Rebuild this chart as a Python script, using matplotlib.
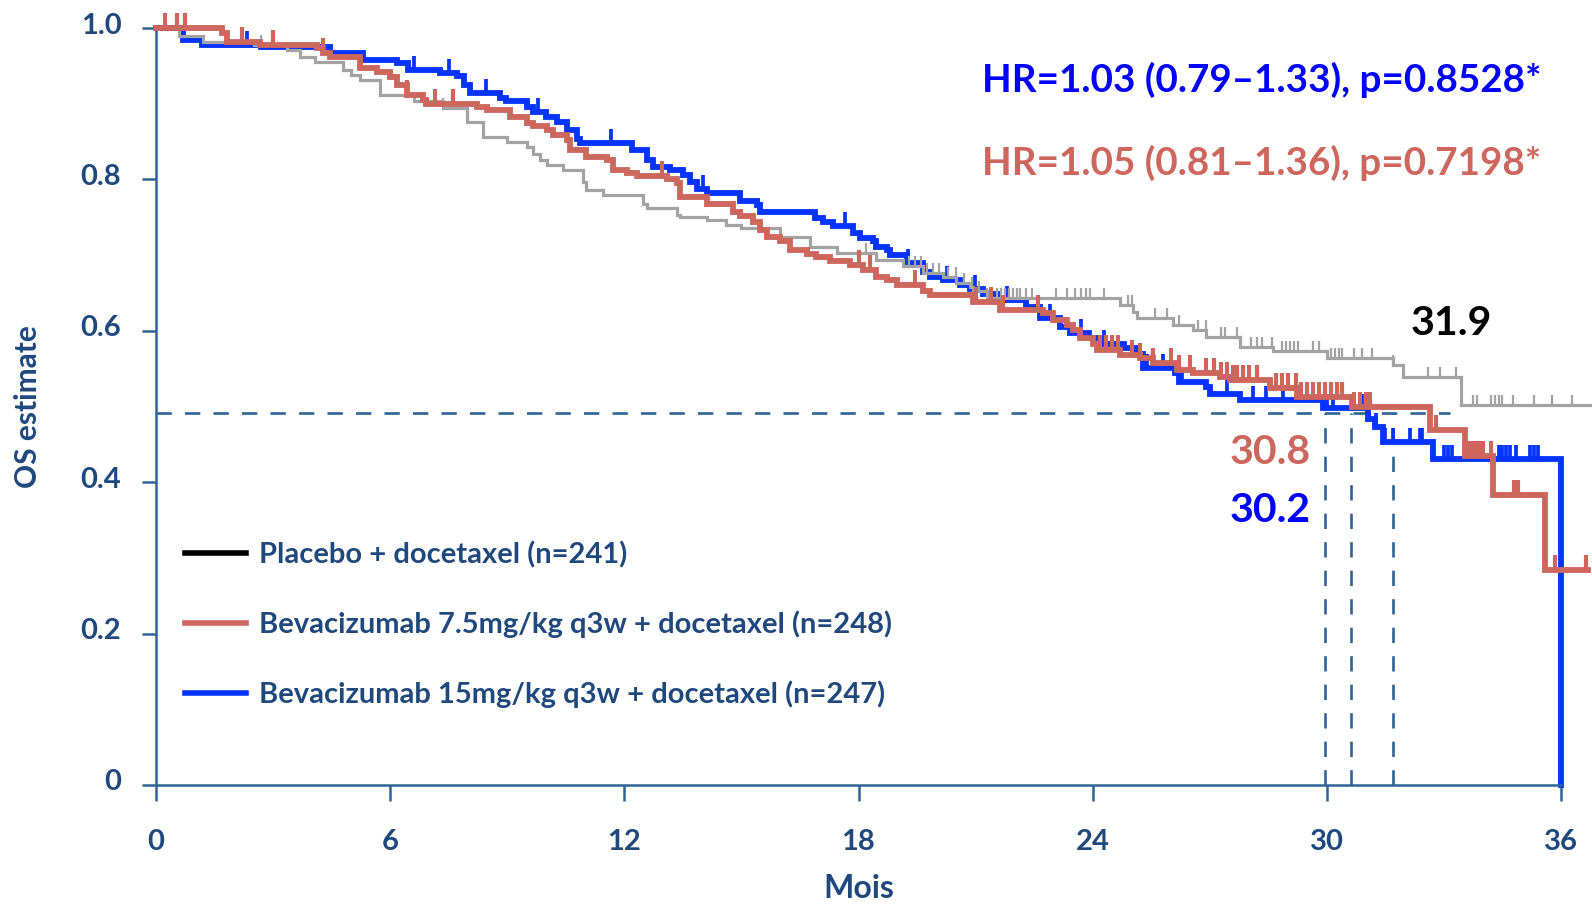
import numpy as np
import matplotlib
matplotlib.use("Agg")
import matplotlib.pyplot as plt
from matplotlib.lines import Line2D
from matplotlib.transforms import ScaledTranslation

plt.rcParams['font.family'] = ['Lato', 'DejaVu Sans']
plt.rcParams['font.weight'] = 'bold'

# ---------------- data ----------------
blue_t = [0, 0.69, 1.17, 2.7, 4.46, 5.3, 6.17, 6.45, 7.28, 7.7, 7.9, 8.05, 8.81, 8.97,
          9.5, 9.67, 10.0, 10.27, 10.52, 10.78, 10.86, 12.2, 12.57, 12.74, 13.17, 13.51,
          13.68, 13.85, 14.11, 14.96, 15.39, 15.47, 16.88, 17.1, 17.35, 17.86, 18.04,
          18.37, 18.46, 18.72, 18.8, 19.23, 19.66, 19.83, 20.17, 20.6, 20.85, 21.2, 21.6,
          22.3, 22.65, 23.16, 23.42, 23.9, 24.3, 24.8, 25.1, 25.3, 26.1, 26.2, 26.9, 27.0,
          27.78, 29.9, 31.06, 31.23, 31.44, 32.73, 36.0]
blue_s = [1.0, 0.984, 0.978, 0.975, 0.967, 0.958, 0.954, 0.945, 0.940, 0.936, 0.925, 0.914,
          0.908, 0.903, 0.896, 0.889, 0.883, 0.876, 0.865, 0.854, 0.848, 0.839, 0.826,
          0.817, 0.812, 0.806, 0.797, 0.787, 0.782, 0.771, 0.766, 0.757, 0.749, 0.744,
          0.738, 0.729, 0.722, 0.718, 0.711, 0.707, 0.700, 0.689, 0.678, 0.671, 0.667,
          0.660, 0.655, 0.648, 0.641, 0.632, 0.617, 0.605, 0.597, 0.590, 0.583, 0.577,
          0.570, 0.551, 0.544, 0.533, 0.526, 0.517, 0.509, 0.498, 0.484, 0.473, 0.453,
          0.431, 0.0]
blue_cens = [0.53, 2.32, 6.6, 7.52, 8.45, 9.8, 11.67, 14.02, 17.65, 19.27, 20.26, 20.98,
             21.8, 22.9, 23.7, 24.3, 25.4, 25.8, 26.3, 27.43, 28.1, 28.45, 28.88, 30.0,
             30.17, 30.9, 31.05, 31.25, 31.5, 31.7, 32.12, 32.38, 32.45, 33.0, 33.1, 33.2,
             34.4, 34.5, 34.6, 34.7, 34.85, 35.2, 35.3, 35.4, 36.0]

red_t = [0, 1.7, 1.81, 2.67, 4.12, 4.29, 4.46, 5.23, 5.65, 6.0, 6.17, 6.42, 6.85, 6.93,
         8.22, 8.47, 9.07, 9.5, 9.67, 10.01, 10.18, 10.52, 10.6, 11.03, 11.55, 11.72,
         12.06, 12.32, 13.09, 13.34, 13.43, 14.11, 14.79, 14.96, 15.3, 15.47, 15.65,
         15.99, 16.24, 16.67, 16.92, 17.27, 17.78, 18.12, 18.46, 18.72, 18.98, 19.66,
         19.83, 20.94, 21.62, 22.73, 22.99, 23.33, 23.5, 23.67, 24.02, 24.1, 24.7, 25.2,
         25.55, 26.15, 26.57, 27.26, 27.52, 28.54, 29.23, 30.64, 32.64, 33.54, 34.26,
         35.58, 36.7]
red_s = [1.0, 0.993, 0.982, 0.977, 0.973, 0.967, 0.962, 0.947, 0.942, 0.935, 0.925, 0.911,
         0.905, 0.900, 0.895, 0.892, 0.883, 0.874, 0.870, 0.865, 0.859, 0.852, 0.839,
         0.830, 0.826, 0.812, 0.808, 0.804, 0.800, 0.795, 0.777, 0.768, 0.757, 0.751,
         0.744, 0.733, 0.724, 0.718, 0.707, 0.702, 0.698, 0.692, 0.687, 0.680, 0.671,
         0.667, 0.660, 0.652, 0.647, 0.638, 0.627, 0.623, 0.614, 0.608, 0.601, 0.590,
         0.583, 0.575, 0.568, 0.564, 0.557, 0.548, 0.544, 0.539, 0.535, 0.524, 0.513,
         0.499, 0.469, 0.434, 0.383, 0.284, 0.284]
red_cens = [0.23, 0.53, 0.74, 2.2, 3.0, 4.29, 6.42, 7.15, 7.62, 12.96, 18.0, 18.3, 19.45,
            21.0, 21.4, 21.7, 22.6, 24.2, 24.35, 24.5, 24.65, 25.0, 25.2, 25.55, 26.0,
            26.2, 26.5, 26.9, 27.1, 27.3, 27.45, 27.6, 27.7, 27.85, 28.0, 28.2, 28.7,
            28.85, 29.0, 29.2, 29.35, 29.5, 29.65, 29.8, 29.95, 30.1, 30.25, 30.4, 30.7,
            30.85, 31.0, 31.1, 32.8, 33.6, 33.7, 33.8, 33.9, 34.0, 34.2, 34.8, 34.9,
            35.6, 35.85, 36.65]

gray_t = [0, 0.6, 1.2, 2.5, 3.35, 3.7, 4.07, 4.8, 5.0, 5.23, 5.74, 6.6, 7.36, 7.96, 8.38,
          9.0, 9.5, 9.67, 9.84, 10.01, 10.44, 10.95, 11.03, 11.46, 12.49, 12.57, 13.34,
          13.43, 14.11, 14.6, 15.0, 15.99, 16.75, 17.44, 18.46, 19.15, 19.66, 20.17,
          20.51, 20.85, 20.94, 21.3, 24.7, 25.04, 25.13, 26.06, 26.57, 26.91, 27.78,
          28.63, 30.0, 31.7, 31.96, 33.45, 36.8]
gray_s = [1.0, 0.990, 0.982, 0.977, 0.971, 0.962, 0.955, 0.945, 0.938, 0.931, 0.911, 0.903,
          0.894, 0.876, 0.856, 0.850, 0.843, 0.834, 0.826, 0.819, 0.812, 0.797, 0.786,
          0.780, 0.768, 0.762, 0.753, 0.750, 0.746, 0.740, 0.736, 0.724, 0.711, 0.703,
          0.694, 0.685, 0.676, 0.671, 0.663, 0.658, 0.652, 0.643, 0.634, 0.625, 0.617,
          0.608, 0.601, 0.592, 0.579, 0.573, 0.564, 0.555, 0.539, 0.502, 0.502]
gray_cens = [2.7, 7.36, 18.2, 19.3, 19.45, 19.6, 19.75, 19.9, 20.05, 20.3, 20.5, 20.7,
             20.9, 21.1, 21.3, 21.55, 21.65, 21.75, 21.85, 21.95, 22.05, 22.15, 22.3,
             22.45, 23.07, 23.33, 23.55, 23.7, 23.84, 23.93, 24.3, 24.9, 25.0, 25.6, 25.9,
             26.2, 26.7, 26.9, 27.3, 27.4, 27.7, 28.05, 28.2, 28.35, 28.6, 28.85, 28.95,
             29.05, 29.15, 29.25, 29.65, 29.8, 30.1, 30.2, 30.3, 30.4, 30.7, 30.9, 31.15,
             31.7, 32.6, 32.9, 33.3, 33.75, 33.84, 34.2, 34.3, 34.4, 34.5, 34.78, 35.3,
             35.76, 36.27]

median_level = 0.492
median_x = [29.95, 30.63, 31.70]
median_hline_end = 33.15
x_ticks = [0, 6, 12, 18, 24, 30, 36]
y_ticks = [0, 0.2, 0.4, 0.6, 0.8, 1.0]
y_ticklabels = ['0', '0.2', '0.4', '0.6', '0.8', '1.0']
legend_labels = ['Placebo + docetaxel (n=241)',
                 'Bevacizumab 7.5mg/kg q3w + docetaxel (n=248)',
                 'Bevacizumab 15mg/kg q3w + docetaxel (n=247)']
hr_texts = ['HR=1.03 (0.79\u20131.33), p=0.8528*', 'HR=1.05 (0.81\u20131.36), p=0.7198*']
median_labels = ['31.9', '30.8', '30.2']

# ---------------- styling ----------------
C_BLUE = '#0433FF'
C_RED = '#CD665D'
C_GRAY = '#A3A3A3'
C_AXIS = '#2F6395'
C_TEXT = '#1F497D'

fig = plt.figure(figsize=(15.92, 9.07), dpi=100)
ax = fig.add_axes([156 / 1592, 1 - 785 / 907, (1561 - 156) / 1592, (785 - 28) / 907])
ax.set_xlim(0, 36)
ax.set_ylim(0, 1.0)


def step_value(ts, ss, c):
    i = np.searchsorted(np.asarray(ts), c, side='right') - 1
    return np.asarray(ss)[i]


series = [
    (gray_t, gray_s, gray_cens, C_GRAY, 2.3, 7.5, 1.6, 3),
    (blue_t, blue_s, blue_cens, C_BLUE, 4.2, 10.0, 2.7, 2),
    (red_t, red_s, red_cens, C_RED, 4.2, 11.0, 3.0, 4),
]
for ts, ss, cs, col, lw, msz, mew, z in series:
    ax.step(ts, ss, where='post', color=col, lw=lw, zorder=z, clip_on=False,
            solid_joinstyle='miter')
    cy = [step_value(ts, ss, c) for c in cs]
    ax.plot(cs, cy, linestyle='none', marker=2, markersize=msz, markeredgewidth=mew,
            color=col, zorder=z, clip_on=False)

# median reference lines
ax.plot([0, median_hline_end], [median_level, median_level], color=C_AXIS, lw=1.9,
        dashes=(5.8, 5.0), zorder=1)
for mx in median_x:
    ax.plot([mx, mx], [0, median_level], color=C_AXIS, lw=1.9, dashes=(5.8, 5.0), zorder=1)

# axes styling
for s in ['top', 'right']:
    ax.spines[s].set_visible(False)
for s in ['left', 'bottom']:
    ax.spines[s].set_color(C_AXIS)
    ax.spines[s].set_linewidth(1.8)
ax.set_xticks(x_ticks)
ax.set_xticklabels([str(v) for v in x_ticks])
ax.set_yticks(y_ticks)
ax.set_yticklabels(y_ticklabels)
ax.tick_params(axis='x', direction='out', length=11.5, width=1.8, color=C_AXIS,
               labelcolor=C_TEXT, labelsize=21, pad=20.5)
ax.tick_params(axis='y', direction='out', length=10, width=1.8, color=C_AXIS,
               labelcolor=C_TEXT, labelsize=21, pad=15)
for lbl in ax.get_xticklabels() + ax.get_yticklabels():
    lbl.set_fontweight('bold')
for t in ax.yaxis.get_major_ticks():
    t.label1.set_transform(t.label1.get_transform() +
                           ScaledTranslation(0, 5 / 100, fig.dpi_scale_trans))

ax.set_xlabel('Mois', fontsize=23, fontweight='bold', color=C_TEXT, labelpad=13)
ax.set_ylabel('OS estimate', fontsize=21.5, fontweight='bold', color=C_TEXT, labelpad=28)

# legend
handles = [Line2D([], [], color='black', lw=4),
           Line2D([], [], color=C_RED, lw=4),
           Line2D([], [], color=C_BLUE, lw=4)]
leg = ax.legend(handles, legend_labels, loc='upper left',
                bbox_to_anchor=(185 / 1592, 1 - 541 / 907), bbox_transform=fig.transFigure,
                frameon=False, fontsize=21, handlelength=2.1, handletextpad=0.45,
                labelspacing=1.45, borderpad=0, borderaxespad=0)
for txt in leg.get_texts():
    txt.set_color(C_TEXT)
    txt.set_fontweight('bold')

# annotations
ax.text(35.49, 0.932, hr_texts[0], color='#0000FF', fontsize=27.8, fontweight='bold',
        ha='right', va='center')
ax.text(35.49, 0.822, hr_texts[1], color=C_RED, fontsize=27.8, fontweight='bold',
        ha='right', va='center')
ax.text(33.18, 0.610, median_labels[0], color='black', fontsize=29.5, fontweight='bold',
        ha='center', va='center')
ax.text(28.54, 0.439, median_labels[1], color=C_RED, fontsize=29.5, fontweight='bold',
        ha='center', va='center')
ax.text(28.54, 0.362, median_labels[2], color='#0000FF', fontsize=29.5, fontweight='bold',
        ha='center', va='center')

fig.savefig('out.png', dpi=100)
